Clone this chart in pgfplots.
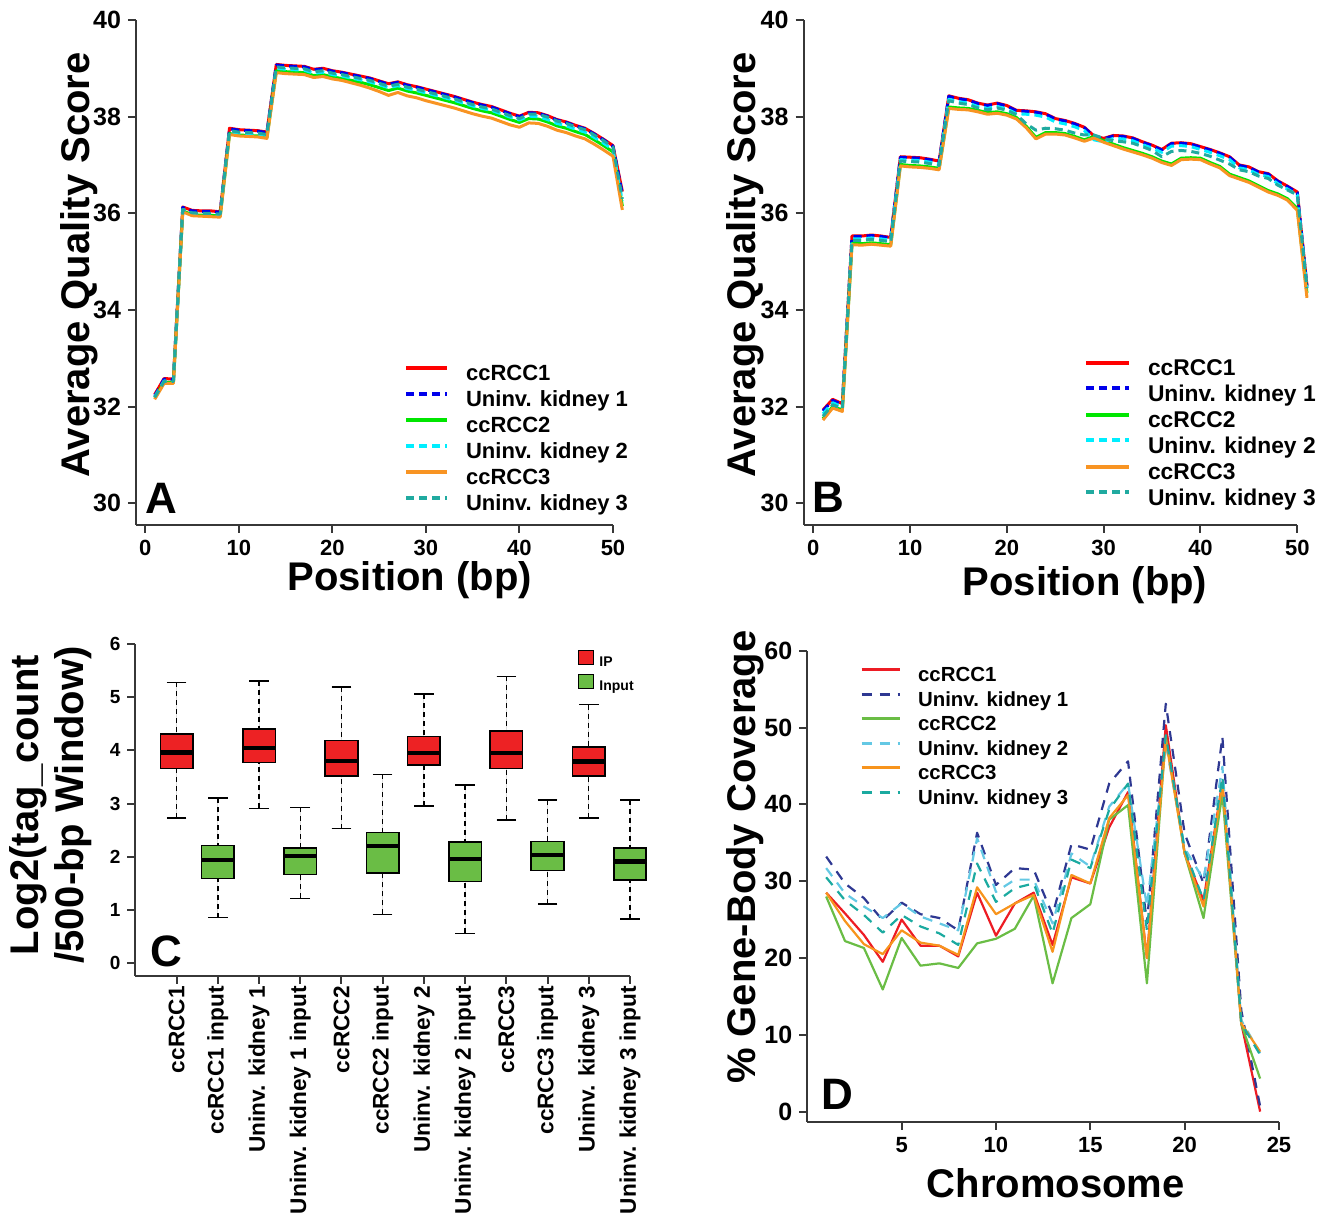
\documentclass[border=0pt]{standalone}
\usepackage{fontspec}
\setmainfont{Liberation Sans}
\usepackage{pgfplots}
\usepackage{pgfplotstable}
\pgfplotsset{compat=1.18}
\usepgfplotslibrary{statistics}

\definecolor{qred}{RGB}{255,0,0}
\definecolor{qblue}{RGB}{0,0,235}
\definecolor{qgreen}{RGB}{0,230,0}
\definecolor{qcyan}{RGB}{0,238,255}
\definecolor{qorange}{RGB}{248,148,35}
\definecolor{qteal}{RGB}{32,170,160}
\definecolor{dred}{RGB}{237,28,36}
\definecolor{dblue}{RGB}{46,56,146}
\definecolor{dgreen}{RGB}{106,189,69}
\definecolor{dcyan}{RGB}{100,200,228}
\definecolor{dorange}{RGB}{247,148,29}
\definecolor{dteal}{RGB}{27,170,160}
\definecolor{boxred}{RGB}{237,34,36}
\definecolor{boxgreen}{RGB}{106,189,69}
\definecolor{axgray}{RGB}{55,55,55}

% panel A: x r(ccRCC1) b(Uninv1) g(ccRCC2) c(Uninv2) o(ccRCC3) t(Uninv3)
\pgfplotstableread{
x r b g c o t
1 32.25 32.22 32.18 32.20 32.15 32.19
2 32.58 32.57 32.50 32.53 32.48 32.52
3 32.57 32.56 32.50 32.52 32.48 32.52
4 36.13 36.12 36.05 36.08 36.03 36.08
5 36.06 36.05 35.97 36.00 35.95 36.01
6 36.05 36.04 35.96 35.99 35.94 36.00
7 36.05 36.04 35.96 35.99 35.93 36.00
8 36.03 36.02 35.94 35.97 35.92 35.98
9 37.76 37.75 37.65 37.69 37.63 37.71
10 37.73 37.72 37.62 37.66 37.60 37.68
11 37.72 37.71 37.61 37.65 37.59 37.67
12 37.71 37.70 37.60 37.64 37.58 37.66
13 37.68 37.67 37.57 37.61 37.55 37.63
14 39.08 39.07 38.95 39.00 38.91 39.03
15 39.06 39.05 38.93 38.98 38.89 39.01
16 39.05 39.04 38.92 38.97 38.88 39.00
17 39.04 39.03 38.91 38.96 38.87 38.99
18 38.98 38.97 38.85 38.90 38.81 38.93
19 39.00 38.99 38.87 38.92 38.83 38.95
20 38.95 38.94 38.82 38.87 38.78 38.90
21 38.92 38.91 38.79 38.84 38.75 38.87
22 38.88 38.87 38.75 38.80 38.70 38.83
23 38.84 38.83 38.71 38.76 38.65 38.79
24 38.80 38.79 38.66 38.72 38.59 38.75
25 38.74 38.73 38.60 38.66 38.52 38.69
26 38.68 38.67 38.54 38.60 38.44 38.63
27 38.72 38.71 38.59 38.64 38.50 38.67
28 38.66 38.65 38.53 38.58 38.43 38.61
29 38.62 38.61 38.49 38.54 38.39 38.57
30 38.57 38.56 38.44 38.49 38.33 38.52
31 38.52 38.51 38.39 38.44 38.28 38.47
32 38.47 38.46 38.34 38.39 38.23 38.42
33 38.42 38.41 38.29 38.34 38.18 38.37
34 38.36 38.35 38.23 38.28 38.12 38.31
35 38.30 38.29 38.17 38.22 38.06 38.25
36 38.25 38.24 38.12 38.17 38.01 38.20
37 38.21 38.20 38.08 38.13 37.97 38.16
38 38.14 38.13 38.01 38.06 37.90 38.09
39 38.07 38.06 37.94 37.99 37.83 38.02
40 38.01 38.00 37.88 37.93 37.78 37.96
41 38.09 38.08 37.96 38.01 37.87 38.05
42 38.08 38.07 37.95 38.00 37.86 38.05
43 38.02 38.01 37.89 37.94 37.80 37.99
44 37.94 37.93 37.81 37.86 37.72 37.91
45 37.89 37.88 37.76 37.81 37.67 37.86
46 37.82 37.81 37.69 37.74 37.60 37.79
47 37.76 37.75 37.63 37.68 37.54 37.73
48 37.65 37.64 37.52 37.57 37.43 37.62
49 37.53 37.52 37.40 37.45 37.31 37.50
50 37.40 37.39 37.27 37.32 37.18 37.37
51 36.45 36.40 36.15 36.25 36.07 36.30
}\tabA

% panel B
\pgfplotstableread{
x r b g c o t
1 31.93 31.91 31.75 31.85 31.72 31.80
2 32.15 32.13 32.00 32.08 31.97 32.04
3 32.06 32.04 31.93 31.99 31.90 31.96
4 35.53 35.52 35.38 35.47 35.35 35.44
5 35.53 35.52 35.37 35.47 35.34 35.44
6 35.55 35.54 35.39 35.49 35.36 35.46
7 35.53 35.52 35.37 35.47 35.34 35.44
8 35.50 35.49 35.35 35.44 35.32 35.41
9 37.17 37.16 37.01 37.11 36.98 37.08
10 37.16 37.15 36.99 37.10 36.96 37.07
11 37.15 37.14 36.98 37.09 36.95 37.06
12 37.12 37.11 36.96 37.06 36.93 37.03
13 37.08 37.07 36.93 37.02 36.90 36.99
14 38.43 38.42 38.20 38.36 38.17 38.33
15 38.38 38.37 38.18 38.31 38.15 38.28
16 38.35 38.34 38.17 38.28 38.14 38.25
17 38.28 38.27 38.13 38.21 38.10 38.18
18 38.24 38.23 38.08 38.17 38.05 38.14
19 38.28 38.27 38.10 38.21 38.07 38.18
20 38.23 38.22 38.06 38.16 38.03 38.13
21 38.13 38.12 37.98 38.06 37.95 38.04
22 38.12 38.11 37.80 38.05 37.77 37.85
23 38.10 38.09 37.57 38.03 37.54 37.72
24 38.06 38.05 37.67 37.99 37.64 37.76
25 37.96 37.95 37.67 37.89 37.64 37.75
26 37.92 37.91 37.65 37.85 37.62 37.72
27 37.86 37.85 37.59 37.79 37.56 37.66
28 37.78 37.77 37.52 37.71 37.49 37.62
29 37.60 37.59 37.59 37.52 37.56 37.62
30 37.55 37.54 37.50 37.48 37.47 37.55
31 37.61 37.60 37.43 37.55 37.40 37.50
32 37.60 37.59 37.36 37.54 37.33 37.48
33 37.56 37.55 37.30 37.50 37.27 37.45
34 37.48 37.47 37.24 37.42 37.21 37.38
35 37.41 37.40 37.17 37.35 37.14 37.30
36 37.32 37.31 37.08 37.26 37.05 37.17
37 37.45 37.44 37.02 37.39 36.99 37.28
38 37.46 37.45 37.14 37.40 37.11 37.30
39 37.44 37.43 37.15 37.38 37.12 37.28
40 37.38 37.37 37.14 37.32 37.11 37.24
41 37.32 37.31 37.05 37.26 37.02 37.18
42 37.25 37.24 36.97 37.19 36.94 37.10
43 37.17 37.16 36.81 37.11 36.78 37.02
44 37.00 36.99 36.74 36.94 36.71 36.90
45 36.96 36.95 36.67 36.90 36.64 36.86
46 36.86 36.85 36.57 36.80 36.54 36.77
47 36.82 36.81 36.47 36.76 36.44 36.72
48 36.67 36.66 36.40 36.61 36.37 36.58
49 36.56 36.55 36.30 36.50 36.27 36.48
50 36.44 36.43 36.10 36.38 36.06 36.38
51 34.50 34.48 34.35 34.45 34.25 34.45
}\tabB

% panel D: chromosome, % gene-body coverage
\pgfplotstableread{
x r b g c o t
1 28.5 33.2 28.0 31.7 28.5 30.5
2 25.8 29.7 22.2 28.4 24.8 27.5
3 23.0 27.8 21.3 26.7 21.8 25.6
4 19.5 24.9 15.9 25.2 20.5 23.3
5 25.0 27.2 22.6 27.1 23.6 25.6
6 21.6 25.7 19.0 25.4 22.0 24.1
7 21.6 25.2 19.3 24.5 21.6 23.2
8 20.2 23.6 18.7 23.6 20.4 21.7
9 28.5 36.3 21.9 35.6 29.2 32.3
10 22.9 29.5 22.5 28.6 25.7 27.3
11 27.1 31.7 23.8 30.2 27.1 29.1
12 28.5 31.5 28.1 30.2 28.2 29.7
13 21.7 25.6 16.7 24.5 20.8 23.2
14 30.5 34.8 25.2 33.6 30.8 32.8
15 29.7 34.1 27.0 31.9 29.7 31.7
16 37.0 42.7 38.0 39.7 38.2 39.3
17 41.6 45.6 39.9 42.7 41.2 42.7
18 20.0 24.5 16.7 26.7 20.0 23.6
19 50.3 53.1 48.8 47.9 48.4 49.0
20 33.6 36.2 33.6 34.3 33.6 34.1
21 27.5 29.7 25.2 30.2 26.7 27.5
22 42.9 48.8 41.4 44.9 42.7 43.6
23 11.5 13.2 11.4 11.9 11.5 11.5
24 0.0 0.7 4.3 7.6 7.8 7.4
}\tabD

\pgfplotsset{
  panel/.style={
    scale only axis, clip=false, no markers,
    axis x line*=bottom, axis y line*=left,
    axis line style={axgray, line width=1pt},
    every tick/.style={axgray, line width=1pt},
    tick align=outside, major tick length=4pt,
    /pgf/number format/assume math mode=true,
    xticklabel style={font=\bfseries\fontsize{11}{13}\selectfont},
    yticklabel style={font=\bfseries\fontsize{12.5}{14}\selectfont},
    every axis label/.append style={font=\bfseries\fontsize{20}{22.5}\selectfont},
    legend cell align=left,
    legend style={draw=none, fill=none, inner sep=0pt, outer sep=0pt, anchor=north west},
  },
  qline/.style={line width=1.5pt, line join=round},
  qdash/.style={dash pattern=on 4pt off 2.5pt},
  dline/.style={line width=1.1pt, line join=round},
  ddash/.style={dash pattern=on 5pt off 4pt},
  qual/.style={
    xmin=-1, xmax=50, ymin=29.55, ymax=40,
    xtick={0,10,...,50}, ytick={30,32,...,40},
    xlabel={Position (bp)}, ylabel={Average Quality Score},
    legend style={row sep=2.5pt, column sep=8.5pt,
      font=\bfseries\fontsize{11}{12}\selectfont,
      nodes={inner sep=0pt, text height=8pt, text depth=2.5pt}},
  },
}

\begin{document}
\begin{tikzpicture}
\useasboundingbox (0,0) rectangle (662pt,610pt);

% ---------------- A ----------------
\begin{axis}[panel, qual, at={(68pt,347.5pt)}, anchor=south west,
  width=238.5pt, height=252.5pt,
  xlabel style={at={(axis description cs:0.574,-0.109)}, anchor=center},
  ylabel style={at={(axis description cs:-0.1195,0.515)}, anchor=center},
  legend style={at={(axis description cs:0.562,0.3176)}},
  legend image code/.code={\draw[#1, line width=2pt] (0pt,3.8pt) -- (20.5pt,3.8pt);},
]
\addplot[qline, qred] table[x=x, y=r] {\tabA}; \addlegendentry{ccRCC1}
\addplot[qline, qblue, qdash] table[x=x, y=b] {\tabA}; \addlegendentry{Uninv. kidney 1}
\addplot[qline, qgreen] table[x=x, y=g] {\tabA}; \addlegendentry{ccRCC2}
\addplot[qline, qcyan, qdash] table[x=x, y=c] {\tabA}; \addlegendentry{Uninv. kidney 2}
\addplot[qline, qorange] table[x=x, y=o] {\tabA}; \addlegendentry{ccRCC3}
\addplot[qline, qteal, qdash] table[x=x, y=t] {\tabA}; \addlegendentry{Uninv. kidney 3}
\node[font=\bfseries\fontsize{22}{22}\selectfont] at (axis cs:1.71,30.1) {A};
\end{axis}

% ---------------- B ----------------
\begin{axis}[panel, qual, at={(401.8pt,347.5pt)}, anchor=south west,
  width=246.85pt, height=252.5pt,
  xlabel style={at={(axis description cs:0.570,-0.119)}, anchor=center},
  ylabel style={at={(axis description cs:-0.119,0.515)}, anchor=center},
  legend style={at={(axis description cs:0.568,0.3275)},
    font=\bfseries\fontsize{11.4}{12}\selectfont},
  legend image code/.code={\draw[#1, line width=2pt] (0pt,3.8pt) -- (21.5pt,3.8pt);},
]
\addplot[qline, qred] table[x=x, y=r] {\tabB}; \addlegendentry{ccRCC1}
\addplot[qline, qblue, qdash] table[x=x, y=b] {\tabB}; \addlegendentry{Uninv. kidney 1}
\addplot[qline, qgreen] table[x=x, y=g] {\tabB}; \addlegendentry{ccRCC2}
\addplot[qline, qcyan, qdash] table[x=x, y=c] {\tabB}; \addlegendentry{Uninv. kidney 2}
\addplot[qline, qorange] table[x=x, y=o] {\tabB}; \addlegendentry{ccRCC3}
\addplot[qline, qteal, qdash] table[x=x, y=t] {\tabB}; \addlegendentry{Uninv. kidney 3}
\node[font=\bfseries\fontsize{22}{22}\selectfont] at (axis cs:1.52,30.12) {B};
\end{axis}

% ---------------- C ----------------
\begin{axis}[panel, at={(67.7pt,122pt)}, anchor=south west,
  width=247.3pt, height=166pt,
  xmin=0, xmax=12, ymin=-0.239, ymax=6,
  xtick={1,...,12},
  xticklabels={ccRCC1, ccRCC1 input, Uninv. kidney 1, Uninv. kidney 1 input,
    ccRCC2, ccRCC2 input, Uninv. kidney 2, Uninv. kidney 2 input,
    ccRCC3, ccRCC3 input, Uninv. kidney 3, Uninv. kidney 3 input},
  xticklabel style={rotate=90, anchor=east, inner sep=1pt,
    font=\bfseries\fontsize{11.3}{13}\selectfont},
  ytick={0,...,6},
  yticklabel style={font=\bfseries\fontsize{9.5}{11}\selectfont},
  ylabel={Log2(tag\_count\\/500-bp Window)},
  ylabel style={align=center, at={(axis description cs:-0.1706,0.515)}, anchor=center},
  boxplot/draw direction=y,
  boxplot/box extend=0.79,
  boxplot/every median/.style={draw=black, line width=2.2pt},
  boxplot/every box/.style={draw=black, line width=0.8pt},
  boxplot/draw/lower whisker/.code={
    \draw[black, line width=0.7pt, dash pattern=on 2.5pt off 2pt]
      (boxplot box cs:\pgfplotsboxplotvalue{lower whisker},0.5) --
      (boxplot box cs:\pgfplotsboxplotvalue{lower quartile},0.5);
    \draw[black, line width=0.8pt]
      (boxplot box cs:\pgfplotsboxplotvalue{lower whisker},0.2) --
      (boxplot box cs:\pgfplotsboxplotvalue{lower whisker},0.8);
  },
  boxplot/draw/upper whisker/.code={
    \draw[black, line width=0.7pt, dash pattern=on 2.5pt off 2pt]
      (boxplot box cs:\pgfplotsboxplotvalue{upper whisker},0.5) --
      (boxplot box cs:\pgfplotsboxplotvalue{upper quartile},0.5);
    \draw[black, line width=0.8pt]
      (boxplot box cs:\pgfplotsboxplotvalue{upper whisker},0.2) --
      (boxplot box cs:\pgfplotsboxplotvalue{upper whisker},0.8);
  },
  legend style={at={(axis description cs:0.895,0.9834)}, row sep=2.4pt, column sep=2.5pt,
    font=\bfseries\fontsize{7}{8}\selectfont,
    nodes={inner sep=0pt, text height=5.2pt, text depth=1.5pt}},
  legend image code/.code={\draw[#1, draw=black, line width=0.7pt] (0pt,-0.9pt) rectangle (7.5pt,6.1pt);},
]
\addplot[forget plot, fill=boxred, boxplot prepared={draw position=1,
  lower whisker=2.73, lower quartile=3.66, median=3.96, upper quartile=4.31, upper whisker=5.28}] coordinates {};
\addplot[forget plot, fill=boxgreen, boxplot prepared={draw position=2,
  lower whisker=0.86, lower quartile=1.59, median=1.94, upper quartile=2.21, upper whisker=3.11}] coordinates {};
\addplot[forget plot, fill=boxred, boxplot prepared={draw position=3,
  lower whisker=2.91, lower quartile=3.77, median=4.04, upper quartile=4.40, upper whisker=5.31}] coordinates {};
\addplot[forget plot, fill=boxgreen, boxplot prepared={draw position=4,
  lower whisker=1.22, lower quartile=1.67, median=2.02, upper quartile=2.17, upper whisker=2.93}] coordinates {};
\addplot[forget plot, fill=boxred, boxplot prepared={draw position=5,
  lower whisker=2.53, lower quartile=3.52, median=3.80, upper quartile=4.19, upper whisker=5.19}] coordinates {};
\addplot[forget plot, fill=boxgreen, boxplot prepared={draw position=6,
  lower whisker=0.92, lower quartile=1.70, median=2.20, upper quartile=2.46, upper whisker=3.55}] coordinates {};
\addplot[forget plot, fill=boxred, boxplot prepared={draw position=7,
  lower whisker=2.96, lower quartile=3.73, median=3.95, upper quartile=4.26, upper whisker=5.06}] coordinates {};
\addplot[forget plot, fill=boxgreen, boxplot prepared={draw position=8,
  lower whisker=0.56, lower quartile=1.54, median=1.96, upper quartile=2.28, upper whisker=3.35}] coordinates {};
\addplot[forget plot, fill=boxred, boxplot prepared={draw position=9,
  lower whisker=2.69, lower quartile=3.66, median=3.95, upper quartile=4.36, upper whisker=5.39}] coordinates {};
\addplot[forget plot, fill=boxgreen, boxplot prepared={draw position=10,
  lower whisker=1.11, lower quartile=1.74, median=2.04, upper quartile=2.29, upper whisker=3.07}] coordinates {};
\addplot[forget plot, fill=boxred, boxplot prepared={draw position=11,
  lower whisker=2.73, lower quartile=3.52, median=3.79, upper quartile=4.06, upper whisker=4.86}] coordinates {};
\addplot[forget plot, fill=boxgreen, boxplot prepared={draw position=12,
  lower whisker=0.83, lower quartile=1.56, median=1.91, upper quartile=2.17, upper whisker=3.07}] coordinates {};
\addlegendimage{fill=boxred}\addlegendentry{IP}
\addlegendimage{fill=boxgreen}\addlegendentry{Input}
\node[font=\bfseries\fontsize{22}{22}\selectfont] at (axis cs:0.74,0.23) {C};
\end{axis}

% ---------------- D ----------------
\begin{axis}[panel, at={(403.65pt,49pt)}, anchor=south west,
  width=235.85pt, height=235.65pt,
  xmin=0, xmax=25, ymin=-1.35, ymax=60,
  xtick={5,10,...,25}, ytick={0,10,...,60},
  xlabel={Chromosome}, ylabel={\% Gene-Body Coverage},
  xlabel style={at={(axis description cs:0.527,-0.129)}, anchor=center},
  ylabel style={at={(axis description cs:-0.132,0.562)}, anchor=center},
  legend style={at={(axis description cs:0.112,0.9654)}, row sep=2.45pt, column sep=8.5pt,
    font=\bfseries\fontsize{10.2}{12}\selectfont,
    nodes={inner sep=0pt, text height=7.5pt, text depth=2.3pt}},
  legend image code/.code={\draw[#1, line width=1.5pt] (0pt,3.5pt) -- (19pt,3.5pt);},
]
\addplot[dline, dred] table[x=x, y=r] {\tabD}; \addlegendentry{ccRCC1}
\addplot[dline, dblue, ddash] table[x=x, y=b] {\tabD}; \addlegendentry{Uninv. kidney 1}
\addplot[dline, dgreen] table[x=x, y=g] {\tabD}; \addlegendentry{ccRCC2}
\addplot[dline, dcyan, ddash] table[x=x, y=c] {\tabD}; \addlegendentry{Uninv. kidney 2}
\addplot[dline, dorange] table[x=x, y=o] {\tabD}; \addlegendentry{ccRCC3}
\addplot[dline, dteal, ddash] table[x=x, y=t] {\tabD}; \addlegendentry{Uninv. kidney 3}
\node[font=\bfseries\fontsize{22}{22}\selectfont] at (axis cs:1.57,2.3) {D};
\end{axis}
\end{tikzpicture}
\end{document}
